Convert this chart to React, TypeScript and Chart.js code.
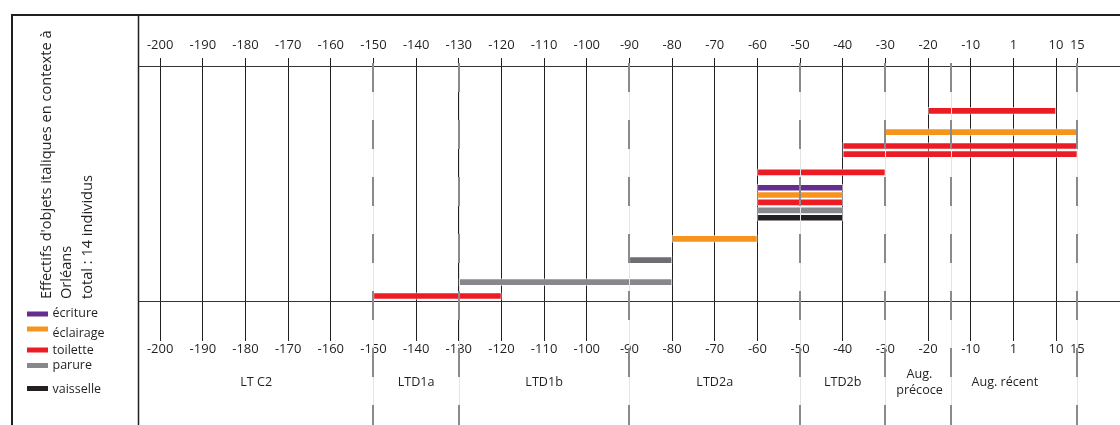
import React, { useEffect, useRef } from 'react';
import { Chart, registerables } from 'chart.js';

Chart.register(...registerables);

// ---- data ----
const tickValues = [-200, -190, -180, -170, -160, -150, -140, -130, -120, -110, -100, -90, -80, -70, -60, -50, -40, -30, -20, -10, 0, 10, 15];
const tickLabels = ['-200', '-190', '-180', '-170', '-160', '-150', '-140', '-130', '-120', '-110', '-100', '-90', '-80', '-70', '-60', '-50', '-40', '-30', '-20', '-10', '1', '10', '15'];

const categories = ['écriture', 'éclairage', 'toilette', 'parure', 'vaisselle'];
const seriesKeys = ['écriture', 'éclairage', 'toilette', 'parure', 'parure (variante)', 'vaisselle'];

const barCategory = ['toilette', 'parure', 'parure (variante)', 'éclairage', 'vaisselle', 'parure', 'toilette', 'éclairage', 'écriture', 'toilette', 'toilette', 'toilette', 'éclairage', 'toilette'];
const barStart = [-150, -130, -90, -80, -60, -60, -60, -60, -60, -60, -40, -40, -30, -20];
const barEnd = [-120, -80, -80, -60, -40, -40, -40, -40, -40, -30, 15, 15, 15, 10];
const barLevel = [0.7, 2.6, 5.6, 8.5, 11.4, 12.4, 13.5, 14.5, 15.5, 17.6, 20.1, 21.2, 23.1, 26.0];

const referenceLevels = [0, 32];

const periodNames = ['LT C2', 'LTD1a', 'LTD1b', 'LTD2a', 'LTD2b', 'Aug.\nprécoce', 'Aug. récent'];
const periodLabelAt = [-177.5, -140, -110, -70, -40, -22, -2];
const periodBoundaries = [-150, -130, -90, -50, -30, -14.5, 15];

const titleLines = ["Effectifs d'objets italiques en contexte à", 'Orléans', 'total : 14 individus'];

// ---- styles ----
const COLORS: Record<string, string> = {
  'écriture': '#662d91',
  'éclairage': '#f7941d',
  'toilette': '#ed1c24',
  'parure': '#87888b',
  'parure (variante)': '#6d6e71',
  'vaisselle': '#231f20',
};
const INK = '#231f20';
const FONT = "'Open Sans', 'Noto Sans', sans-serif";

const X_MIN = -205.2;
const X_MAX = 25;

export default function App() {
  const ref = useRef<HTMLCanvasElement | null>(null);

  useEffect(() => {
    const canvas = ref.current;
    if (!canvas) return;

    const datasets = seriesKeys.map((k) => ({
      label: k,
      data: barCategory
        .map((c, i) => (c === k ? { x: [barStart[i], barEnd[i]], y: barLevel[i] } : null))
        .filter((d) => d !== null),
      backgroundColor: COLORS[k],
      borderColor: 'rgba(255,255,255,0.55)',
      borderWidth: 1,
      borderSkipped: false,
      barThickness: 7,
      grouped: false,
      xAxisID: 'x',
      yAxisID: 'y',
    }));

    const decor = {
      id: 'decor',
      afterDatasetsDraw(chart: any) {
        const ctx = chart.ctx;
        const xs = chart.scales.x;
        ctx.save();
        periodBoundaries.forEach((v) => {
          const px = Math.round(xs.getPixelForValue(v));
          ctx.strokeStyle = '#e4e4e4';
          ctx.lineWidth = 1;
          ctx.setLineDash([]);
          ctx.beginPath();
          ctx.moveTo(px + 0.5, 63);
          ctx.lineTo(px + 0.5, 425);
          ctx.stroke();
          ctx.strokeStyle = '#8a8a8c';
          ctx.lineWidth = 2;
          ctx.setLineDash([29, 28]);
          ctx.beginPath();
          ctx.moveTo(px, 63);
          ctx.lineTo(px, 430);
          ctx.stroke();
        });
        ctx.restore();
      },
      afterDraw(chart: any) {
        const ctx = chart.ctx;
        const xs = chart.scales.x;
        ctx.save();
        // frame
        ctx.strokeStyle = INK;
        ctx.lineWidth = 2;
        ctx.setLineDash([]);
        ctx.strokeRect(12, 15, 1300, 600);
        ctx.lineWidth = 1.5;
        ctx.beginPath();
        ctx.moveTo(138.5, 15);
        ctx.lineTo(138.5, 425);
        ctx.stroke();

        // rotated title
        ctx.fillStyle = INK;
        ctx.font = `14.6px ${FONT}`;
        ctx.textAlign = 'left';
        ctx.textBaseline = 'middle';
        const titleX = [47, 67, 88];
        titleLines.forEach((t, i) => {
          ctx.save();
          ctx.translate(titleX[i], 299);
          ctx.rotate(-Math.PI / 2);
          ctx.fillText(t, 0, 0);
          ctx.restore();
        });

        // legend
        const swatchY = [314, 329, 350, 365.5, 388.5];
        const textY = [313.5, 333, 350, 365.5, 389];
        ctx.font = `12.5px ${FONT}`;
        categories.forEach((c, i) => {
          ctx.fillStyle = COLORS[c];
          ctx.fillRect(27, swatchY[i] - 2.5, 21, 5);
          ctx.fillStyle = INK;
          ctx.fillText(c, 52.5, textY[i]);
        });

        // period labels
        ctx.font = `12.6px ${FONT}`;
        ctx.textAlign = 'center';
        periodNames.forEach((name, i) => {
          const px = xs.getPixelForValue(periodLabelAt[i]);
          const lines = name.split('\n');
          const lh = 16;
          const y0 = 382 - ((lines.length - 1) * lh) / 2;
          lines.forEach((ln, j) => ctx.fillText(ln, px, y0 + j * lh));
        });
        ctx.restore();
      },
    };

    const tickCfg = {
      autoSkip: false,
      maxRotation: 0,
      minRotation: 0,
      color: INK,
      font: { family: FONT, size: 13 },
      callback: (_v: any, i: number) => tickLabels[i],
    };

    const chart = new Chart(canvas, {
      type: 'bar',
      data: { datasets } as any,
      plugins: [decor],
      options: {
        responsive: false,
        animation: false,
        indexAxis: 'y',
        layout: { padding: { left: 138, right: 0, top: 0, bottom: 0 } },
        plugins: { legend: { display: false }, tooltip: { enabled: false } },
        scales: {
          x: {
            type: 'linear',
            position: 'top',
            min: X_MIN,
            max: X_MAX,
            offset: false,
            afterBuildTicks: (s: any) => {
              s.ticks = tickValues.map((v) => ({ value: v }));
            },
            afterFit: (s: any) => {
              s.height = 58;
            },
            ticks: { ...tickCfg, padding: 5 },
            grid: { color: INK, lineWidth: 1, drawTicks: false, offset: false },
            border: { display: false },
          },
          x2: {
            type: 'linear',
            position: 'bottom',
            min: X_MIN,
            max: X_MAX,
            offset: false,
            afterBuildTicks: (s: any) => {
              s.ticks = tickValues.map((v) => ({ value: v }));
            },
            afterFit: (s: any) => {
              s.height = 84;
            },
            ticks: { ...tickCfg, padding: 0 },
            grid: { display: false, drawTicks: false },
            border: { display: false },
          },
          y: {
            type: 'linear',
            min: -5.45,
            max: 33.23,
            offset: false,
            afterBuildTicks: (s: any) => {
              s.ticks = referenceLevels.map((v) => ({ value: v }));
            },
            afterFit: (s: any) => {
              s.width = 0;
            },
            ticks: { display: false },
            grid: { color: '#333', lineWidth: 1, drawTicks: false, offset: false },
            border: { display: false },
          },
        },
      } as any,
    });

    return () => chart.destroy();
  }, []);

  return (
    <div style={{ position: 'absolute', left: 0, top: 0, width: 1120, height: 425, background: '#fff' }}>
      <canvas ref={ref} width={1120} height={425} />
    </div>
  );
}
